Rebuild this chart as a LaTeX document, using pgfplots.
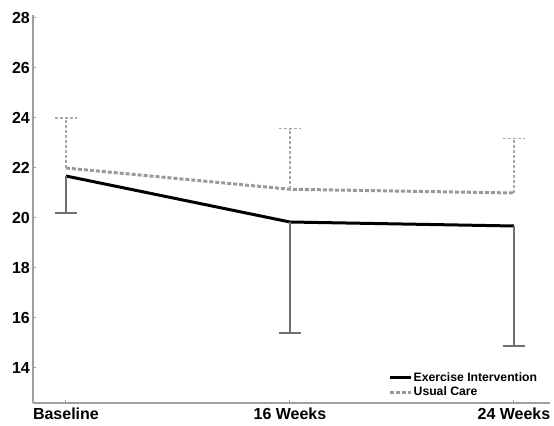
\documentclass[border=0pt]{standalone}
\usepackage{fontspec}
\setmainfont{Liberation Sans}
\usepackage{pgfplots}
\pgfplotsset{compat=1.18}
\definecolor{axgray}{HTML}{A0A0A0}
\definecolor{exbar}{HTML}{707070}
\definecolor{ucline}{HTML}{999999}
\definecolor{ucbar}{HTML}{A8A8A8}
\begin{document}
\begin{tikzpicture}
\path[use as bounding box] (-33bp,-23bp) rectangle (521bp,403bp);
\begin{axis}[
  at={(0,0)}, anchor=south west,
  scale only axis, width=517bp, height=388bp,
  xmin=-0.147, xmax=2.161, ymin=12.6, ymax=28.12,
  axis lines=left,
  axis line style={-, draw=axgray, line width=1.4bp},
  xtick={0,1,2}, xticklabels={Baseline,16 Weeks,24 Weeks},
  ytick={14,16,...,28},
  tick align=inside, major tick length=3bp,
  tick style={draw=axgray, line width=1bp},
  /pgf/number format/assume math mode=true,
  ticklabel style={font=\bfseries\fontsize{16bp}{18bp}\selectfont},
  yticklabel style={inner sep=0pt, xshift=-3bp},
  xticklabel style={inner sep=0pt, yshift=-5bp},
  legend style={draw=none, fill=none, at={(0.688,0.012)}, anchor=south west,
    font=\bfseries\fontsize{12.2bp}{14bp}\selectfont, inner sep=0pt, outer sep=0pt,
    row sep=2bp, nodes={inner sep=1bp}},
  legend cell align=left,
  legend image code/.code={\draw[#1] (0bp,0bp) -- (21bp,0bp);},
  reverse legend,
  clip=false,
]
\addplot[color=ucline, line width=3bp, dash pattern=on 4bp off 2bp,
  error bars/.cd, y dir=plus, y explicit,
  error bar style={draw=ucbar, line width=1.3bp, dash pattern=on 3bp off 2bp},
  error mark options={rotate=90, draw=ucbar, line width=1.3bp, mark size=11bp, dash pattern=on 3bp off 2bp}]
  coordinates {(0,22.0) +- (0,2.0) (1,21.15) +- (0,2.42) (2,21.0) +- (0,2.17)};
\addlegendentry{Usual Care}
\addplot[color=black, line width=3bp,
  error bars/.cd, y dir=minus, y explicit,
  error bar style={draw=exbar, line width=1.3bp, solid},
  error mark options={rotate=90, draw=exbar, line width=1.3bp, mark size=11bp, solid}]
  coordinates {(0,21.68) +- (0,1.48) (1,19.84) +- (0,4.44) (2,19.68) +- (0,4.8)};
\addlegendentry{Exercise Intervention}
\end{axis}
\end{tikzpicture}
\end{document}
